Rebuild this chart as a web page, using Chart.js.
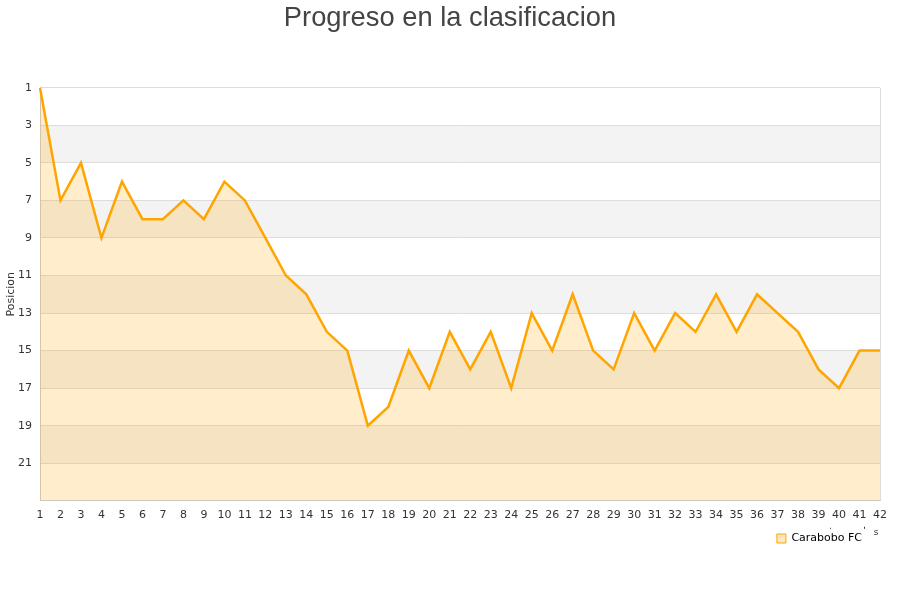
<!DOCTYPE html>
<html>
<head>
<meta charset="utf-8">
<script src="https://cdn.jsdelivr.net/npm/chart.js@4/dist/chart.umd.min.js"></script>
<style>
html,body{margin:0;padding:0;background:#fff;}
#wrap{width:900px;height:600px;position:relative;}
</style>
</head>
<body>
<div id="wrap"><canvas id="c"></canvas></div>
<script>
const jornadas = [1,2,3,4,5,6,7,8,9,10,11,12,13,14,15,16,17,18,19,20,21,22,23,24,25,26,27,28,29,30,31,32,33,34,35,36,37,38,39,40,41,42];
const posiciones = [1,7,5,9,6,8,8,7,8,6,7,9,11,12,14,15,19,18,15,17,14,16,14,17,13,15,12,15,16,13,15,13,14,12,14,12,13,14,16,17,15,15];
const equipo = 'Carabobo FC';
const titulo = 'Progreso en la clasificacion';
const ejeY = 'Posicion';
const bandasGrises = [[3,5],[7,9],[11,13],[15,17],[19,21]];

const bandPlugin = {
  id: 'bands',
  beforeDraw(chart) {
    const {ctx, chartArea: a, scales: {y}} = chart;
    ctx.save();
    ctx.fillStyle = '#f3f3f3';
    bandasGrises.forEach(([v1, v2]) => {
      const p1 = y.getPixelForValue(v1), p2 = y.getPixelForValue(v2);
      ctx.fillRect(a.left, Math.min(p1, p2), a.right - a.left, Math.abs(p2 - p1));
    });
    ctx.restore();
  },
  afterLayout(chart) {
    if (chart.legend) chart.legend.right -= 15;
    if (chart.titleBlock) { chart.titleBlock.left = 0; chart.titleBlock.right = chart.width; }
  },
  afterDraw(chart) {
    const {ctx, chartArea: a} = chart;
    ctx.save();
    ctx.fillStyle = '#333';
    ctx.font = '9px "DejaVu Sans"';
    ctx.textAlign = 'center';
    ctx.textBaseline = 'middle';
    ctx.fillText('s', a.right - 4, a.bottom + 32);
    ctx.fillRect(a.right - 50, a.bottom + 27, 1, 1);
    ctx.fillRect(a.right - 16, a.bottom + 26, 1, 2);
    ctx.restore();
  }
};

new Chart(document.getElementById('c'), {
  type: 'line',
  data: {
    labels: jornadas,
    datasets: [{
      label: equipo,
      data: posiciones,
      borderColor: '#FFA500',
      backgroundColor: 'rgba(255,165,0,0.2)',
      borderWidth: 2.5,
      pointRadius: 0,
      tension: 0,
      fill: 'start'
    }]
  },
  options: {
    responsive: true,
    maintainAspectRatio: false,
    animation: false,
    layout: { padding: { left: 5, right: 20, top: 0, bottom: 46 } },
    plugins: {
      title: {
        display: true,
        text: titulo,
        color: '#444',
        font: { family: 'Liberation Sans', size: 27.3, weight: 'normal' },
        padding: { top: 2, bottom: 53 }
      },
      legend: {
        position: 'bottom',
        align: 'end',
        labels: {
          boxWidth: 9,
          boxHeight: 9,
          color: '#000',
          font: { family: 'DejaVu Sans', size: 11 },
          padding: 3,
          generateLabels(chart) {
            const ds = chart.data.datasets[0];
            return [{
              text: ds.label,
              fillStyle: 'rgba(255,165,0,0.25)',
              strokeStyle: '#FFA500',
              lineWidth: 1,
              hidden: false,
              datasetIndex: 0,
              fontColor: '#000'
            }];
          }
        }
      },
      tooltip: { enabled: false }
    },
    scales: {
      x: {
        offset: false,
        grid: {
          color: (c) => c.index === jornadas.length - 1 ? '#dddddd' : 'rgba(0,0,0,0)',
          drawTicks: false
        },
        border: { color: '#cccccc' },
        ticks: {
          color: '#333',
          font: { family: 'DejaVu Sans', size: 11 },
          maxRotation: 0,
          autoSkip: false,
          padding: 8
        }
      },
      y: {
        reverse: true,
        min: 1,
        max: 23,
        afterFit(scale) { scale.width = 35; },
        grid: { color: '#dddddd', drawTicks: false },
        border: { color: '#cccccc' },
        ticks: {
          stepSize: 2,
          color: '#333',
          font: { family: 'DejaVu Sans', size: 11 },
          padding: 8,
          callback: (v) => v === 23 ? '' : v
        },
        title: {
          display: true,
          text: ejeY,
          color: '#333',
          font: { family: 'DejaVu Sans', size: 11 },
          padding: { top: 0, bottom: 0 }
        }
      }
    }
  },
  plugins: [bandPlugin]
});
</script>
</body>
</html>
